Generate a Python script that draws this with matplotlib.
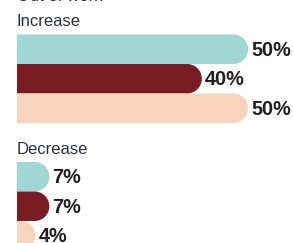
import matplotlib
matplotlib.use("Agg")
import matplotlib.pyplot as plt
from matplotlib.path import Path
from matplotlib.patches import PathPatch
import numpy as np

# data
groups = ["Increase", "Decrease"]
increase = [50, 40, 50]
decrease = [7, 7, 4]
colors = ["#a0d6d4", "#7a1c24", "#f9d4bc"]
top_note = "Out of work"

plt.rcParams["font.family"] = ["Liberation Sans", "DejaVu Sans"]
txt_col = "#2e3040"

fig = plt.figure(figsize=(2.93, 2.43), dpi=100)
ax = fig.add_axes([0, 0, 1, 1])
px_per_pct = 4.62
x0 = 17
ax.set_xlim(-x0 / px_per_pct, (293 - x0) / px_per_pct)
ax.set_ylim(243, 0)
ax.axis("off")

bar_h = 29.5
r_px = 14.75
rx = r_px / px_per_pct


def round_bar(ax, v, top, color):
    # flat left edge, rounded right end
    ry = bar_h / 2
    cy = top + ry
    xe = max(v - rx, 0)
    t = np.linspace(-np.pi / 2, np.pi / 2, 40)
    arc_x = xe + rx * np.cos(t)
    arc_y = cy + ry * np.sin(t)
    xs = np.concatenate([[0], arc_x, [0]])
    ys = np.concatenate([[top], arc_y, [top + bar_h]])
    verts = list(zip(xs, ys))
    path = Path(verts + [verts[0]], [Path.MOVETO] + [Path.LINETO] * (len(verts) - 1) + [Path.CLOSEPOLY])
    ax.add_patch(PathPatch(path, facecolor=color, edgecolor="none"))
    ax.text(v + 3 / px_per_pct, cy + 1, "%d%%" % v, fontsize=14.3, fontweight="bold",
            color="#231f20", ha="left", va="center")


# title above, mostly outside the picture
ax.text(0, 1.2, top_note, fontsize=12, color=txt_col, ha="left", va="baseline")

starts = [34.5, 162]
heads = [26, 153.5]
for g, vals, y0, hy in zip(groups, [increase, decrease], starts, heads):
    ax.text(0, hy, g, fontsize=12, color=txt_col, ha="left", va="baseline")
    for i, v in enumerate(vals):
        round_bar(ax, v, y0 + i * bar_h, colors[i])

fig.savefig("out.png", dpi=100)
